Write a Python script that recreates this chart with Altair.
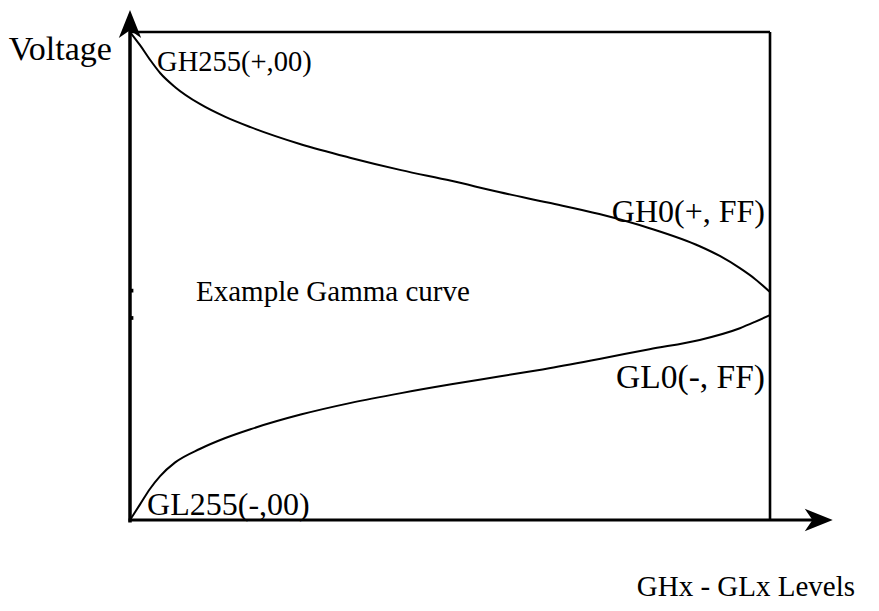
import altair as alt
import pandas as pd

# ---- data (x: level index 0..255, y: relative voltage 0..100) ----
gh_level = [0, 4, 8, 12, 18, 28, 38, 48, 68, 88, 108, 128, 147, 167, 187, 207, 227, 235, 243, 249, 255]
gh_volt = [100, 97.3, 94.3, 91.6, 88.7, 85.2, 82.6, 80.5, 77.0, 74.2, 71.7, 69.5, 67.2, 65.0, 62.7, 59.8, 56.1, 54.1, 51.6, 49.4, 46.7]

gl_level = [0, 4, 8, 12, 18, 28, 38, 48, 68, 88, 108, 128, 147, 167, 187, 207, 227, 243, 249, 255]
gl_volt = [0, 3.2, 6.4, 9.0, 11.8, 14.6, 16.8, 18.6, 21.6, 24.0, 26.0, 27.8, 29.4, 31.1, 33.0, 35.0, 36.9, 39.3, 40.6, 42.0]

left_labels = ["GH255(+,00)", "Example Gamma curve", "GL255(-,00)"]
left_x = [10.8, 26.3, 6.8]
left_y = [93.9, 46.7, 3.1]
left_size = [28.5, 29, 32]

right_labels = ["Voltage", "GH0(+, FF)", "GL0(-, FF)"]
right_x = [-7.2, 253, 253]
right_y = [96.3, 63.1, 29.1]
right_size = [34, 32, 33.5]

axis_title = "GHx - GLx Levels"
axis_title_x = 288.9
axis_title_y = -15.5

# axis/frame extents in data units
X_MAX = 255
Y_MAX = 100
X_ARROW_TIP = 280
Y_ARROW_TIP = 104.5
axis_marks_y = [47.0, 41.4]

# ---- scales (fixed so the frame sits where it does in the picture) ----
xs = alt.Scale(domain=[-48.61, 295.24], nice=False, zero=False)
ys = alt.Scale(domain=[-17.01, 104.92], nice=False, zero=False)

def X(field):
    return alt.X(field, type="quantitative", scale=xs, axis=None)

def Y(field):
    return alt.Y(field, type="quantitative", scale=ys, axis=None)

gh = pd.DataFrame({"x": gh_level, "y": gh_volt})
gl = pd.DataFrame({"x": gl_level, "y": gl_volt})

curve_gh = alt.Chart(gh).mark_line(color="black", strokeWidth=2, interpolate="monotone").encode(x=X("x"), y=Y("y"))
curve_gl = alt.Chart(gl).mark_line(color="black", strokeWidth=2, interpolate="monotone").encode(x=X("x"), y=Y("y"))

# frame (top and right sides)
frame = pd.DataFrame({"x": [0, X_MAX], "y": [Y_MAX, Y_MAX], "x2": [X_MAX, X_MAX], "y2": [Y_MAX, 0]})
frame_rules = alt.Chart(frame).mark_rule(color="black", strokeWidth=2.6).encode(
    x=X("x"), y=Y("y"), x2="x2", y2="y2")

# axes lines
yaxis = alt.Chart(pd.DataFrame({"x": [0], "y": [-0.5], "y2": [Y_ARROW_TIP - 3]})).mark_rule(
    color="black", strokeWidth=3.5).encode(x=X("x"), y=Y("y"), y2="y2")
xaxis = alt.Chart(pd.DataFrame({"x": [-0.6], "x2": [X_ARROW_TIP - 5], "y": [0]})).mark_rule(
    color="black", strokeWidth=3).encode(x=X("x"), x2="x2", y=Y("y"))

up_arrow = "M0,-1 L0.8,1 L0,0.45 L-0.8,1 Z"
right_arrow = "M1,0 L-1,0.8 L-0.45,0 L-1,-0.8 Z"
head_up = alt.Chart(pd.DataFrame({"x": [0], "y": [Y_ARROW_TIP - 2.87]})).mark_point(
    shape=up_arrow, filled=True, size=784, color="black", opacity=1, strokeWidth=0).encode(x=X("x"), y=Y("y"))
head_right = alt.Chart(pd.DataFrame({"x": [X_ARROW_TIP - 5.58], "y": [0]})).mark_point(
    shape=right_arrow, filled=True, size=784, color="black", opacity=1, strokeWidth=0).encode(x=X("x"), y=Y("y"))

ticks = alt.Chart(pd.DataFrame({"x": [0.6] * len(axis_marks_y), "y": axis_marks_y})).mark_square(
    size=14, color="black", opacity=1).encode(x=X("x"), y=Y("y"))

lt = pd.DataFrame({"t": left_labels, "x": left_x, "y": left_y, "s": left_size})
rt = pd.DataFrame({"t": right_labels, "x": right_x, "y": right_y, "s": right_size})
at = pd.DataFrame({"t": [axis_title], "x": [axis_title_x], "y": [axis_title_y]})

text_left = alt.Chart(lt).mark_text(align="left", baseline="middle", font="Liberation Serif", color="black").encode(
    x=X("x"), y=Y("y"), text="t:N", size=alt.Size("s:Q", scale=None, legend=None))
text_right = alt.Chart(rt).mark_text(align="right", baseline="middle", font="Liberation Serif", color="black").encode(
    x=X("x"), y=Y("y"), text="t:N", size=alt.Size("s:Q", scale=None, legend=None))
text_axis = alt.Chart(at).mark_text(align="right", baseline="alphabetic", font="Liberation Serif", fontSize=29, color="black").encode(
    x=X("x"), y=Y("y"), text="t:N")

chart = alt.layer(
    frame_rules, curve_gh, curve_gl, yaxis, xaxis, head_up, head_right, ticks, text_left, text_right, text_axis
).properties(
    width=863, height=595, autosize=alt.AutoSizeParams(type="none"), padding=0
).configure_view(strokeWidth=0, stroke="transparent")

chart.save("out.html", embed_options={"renderer": "svg", "actions": False})
